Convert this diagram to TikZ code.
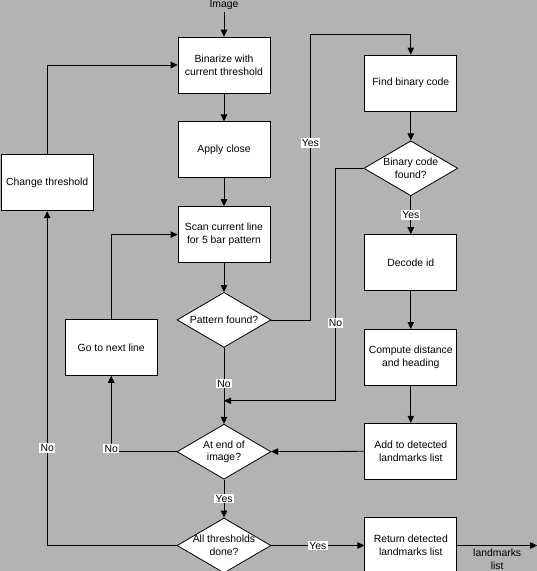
\documentclass[tikz,border=0pt]{standalone}
\usepackage{fontspec}
\setmainfont{Liberation Sans}
\usetikzlibrary{positioning,shapes.geometric,arrows.meta}
\definecolor{bggray}{RGB}{179,179,179}
\tikzset{
  block/.style={draw, fill=white, line width=0.8pt, minimum width=92pt, minimum height=56pt, align=center, inner sep=1pt},
  decision/.style={draw, fill=white, diamond, line width=0.8pt, minimum width=94pt, minimum height=55pt, aspect=1.7, align=center, inner sep=-2pt},
  lbl/.style={fill=white, inner sep=1.2pt},
  link/.style={draw, line width=0.8pt, -{Triangle[length=7pt,width=6.5pt]}},
}
\begin{document}
\begin{tikzpicture}[font=\fontsize{10.4}{12.7}\selectfont]
      \fill[bggray] (0,0) rectangle (537pt,-571pt);
      \useasboundingbox (0,0) rectangle (537pt,-571pt);
      % Define nodes
      \node[block]                         (bin)   at (224pt,-65pt) {Binarize with\\current threshold};
      \node[inner sep=2pt, above=25pt of bin] (img) {Image};
      \node[block, below=28pt of bin]      (apply) {Apply close};
      \node[block, below=28pt of apply]    (scan)  {Scan current line\\for 5 bar pattern};
      \node[decision, below=29pt of scan]  (pat)   {Pattern found?};
      \node[decision, below=76pt of pat]   (atend) {At end of\\image?};
      \node[decision, below=38pt of atend] (alld)  {All thresholds\\done?};
      \node[block, left=84pt of apply, yshift=-33pt] (chg) {Change threshold};
      \node[block, left=19pt of pat, yshift=-27.5pt] (next) {Go to next line};
      \node[block, right=94pt of bin, yshift=-18pt]  (find) {Find binary code};
      \node[decision, below=29pt of find]  (binf)  {Binary code\\found?};
      \node[block, below=38pt of binf]     (dec)   {Decode id};
      \node[block, below=38pt of dec]      (comp)  {Compute distance\\and heading};
      \node[block, below=37pt of comp]     (add)   {Add to detected\\landmarks list};
      \node[block, right=93pt of alld]     (ret)   {Return detected\\landmarks list};
      \coordinate[below=53pt of pat]       (join);
      \coordinate[right=80pt of ret]       (out);
      % Connect nodes
      \draw[link] (img) -- (bin);
      \draw[link] (bin) -- (apply);
      \draw[link] (apply) -- (scan);
      \draw[link] (scan) -- (pat);
      \draw[link] (pat.east) -- ++(39pt,0) |- node[lbl, pos=0.31] {Yes} ([yshift=20pt]find.north) -- (find);
      \draw[link] (pat) -- node[lbl, pos=0.47] {No} (atend);
      \draw[link] (find) -- (binf);
      \draw[link] (binf) -- node[lbl] {Yes} (dec);
      \draw[link] (binf.west) -- ++(-28pt,0) |- node[lbl, pos=0.333] {No} (join);
      \draw[link] (dec) -- (comp);
      \draw[link] (comp) -- (add);
      \draw[link] (add) -- (atend);
      \draw[link] (atend) -| node[lbl, pos=0.52] {No} (next);
      \draw[link] (next) |- (scan);
      \draw[link] (atend) -- node[lbl] {Yes} (alld);
      \draw[link] (alld) -| node[lbl, pos=0.646] {No} (chg);
      \draw[link] (chg) |- (bin);
      \draw[link] (alld) -- node[lbl] {Yes} (ret);
      \draw[link] (ret) -- node[below, align=center] {landmarks\\list} (out);
    \end{tikzpicture}
\end{document}
